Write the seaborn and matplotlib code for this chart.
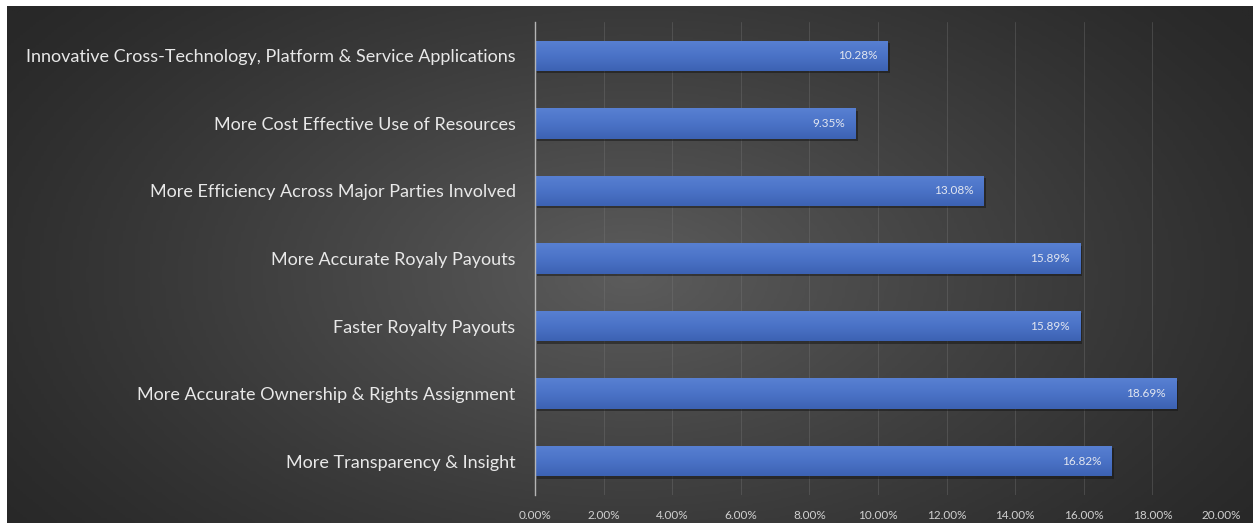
import numpy as np
import pandas as pd
import matplotlib
matplotlib.use("Agg")
import matplotlib.pyplot as plt
from matplotlib.colors import LinearSegmentedColormap
import seaborn as sns

# Survey results: perceived benefits (share of respondents, %)
categories = [
    "Innovative Cross-Technology, Platform & Service Applications",
    "More Cost Effective Use of Resources",
    "More Efficiency Across Major Parties Involved",
    "More Accurate Royaly Payouts",
    "Faster Royalty Payouts",
    "More Accurate Ownership & Rights Assignment",
    "More Transparency & Insight",
]
values = [10.28, 9.35, 13.08, 15.89, 15.89, 18.69, 16.82]
x_ticks = [0, 2, 4, 6, 8, 10, 12, 14, 16, 18, 20]

df = pd.DataFrame({"benefit": categories, "share": values})

sns.set_theme(style="dark")
plt.rcParams["font.family"] = ["Lato", "DejaVu Sans"]

W, H, DPI = 1253, 523, 100
fig = plt.figure(figsize=(W / DPI, H / DPI), dpi=DPI, facecolor="white")

# Dark radial-gradient backdrop
bg = fig.add_axes([7 / W, 0, 1 - 7 / W, (H - 6) / H], zorder=0)
gx, gy = np.meshgrid(np.linspace(0, 1, 400), np.linspace(0, 1, 200))
r = np.sqrt(((gx - 0.5) / 0.62) ** 2 + ((gy - 0.52) / 0.85) ** 2)
shade = np.clip(1 - r, 0, 1) ** 1.2
bg_cmap = LinearSegmentedColormap.from_list("bg", ["#282828", "#5c5c5c"])
bg.imshow(shade, cmap=bg_cmap, aspect="auto", extent=[0, 1, 0, 1], vmin=0, vmax=1)
bg.set_axis_off()

left, right = 535 / W, 1221 / W
bottom, top = 1 - 495 / H, 1 - 22 / H
ax = fig.add_axes([left, bottom, right - left, top - bottom], zorder=1)
ax.patch.set_alpha(0)

sns.barplot(data=df, x="share", y="benefit", orient="h", color="#4a72c6",
            width=0.45, saturation=1, ax=ax, zorder=3,
            edgecolor="none", linewidth=0)

# Soft vertical shading and drop shadow on each bar
bar_cmap = LinearSegmentedColormap.from_list("bar", ["#3c62b3", "#4b73c7", "#5880d2"])
for p in list(ax.patches):
    x0, y0 = p.get_x(), p.get_y()
    w, h = p.get_width(), p.get_height()
    shadow = plt.Rectangle((x0 + 0.06, y0 + 0.035), w, h, color="#141414",
                           alpha=0.5, zorder=2, lw=0)
    ax.add_patch(shadow)
    grad = np.linspace(0, 1, 64).reshape(-1, 1)
    im = ax.imshow(grad, cmap=bar_cmap, aspect="auto",
                   extent=[x0, x0 + w, y0 + h, y0], origin="lower", zorder=4)
    im.set_clip_path(p)

for i, v in enumerate(values):
    ax.text(v - 0.3, i, f"{v:.2f}%", ha="right", va="center",
            fontsize=8.5, color="#e2e6f0", zorder=5)

ax.set_xlim(0, 20)
ax.set_ylim(len(categories) - 0.5, -0.5)
ax.set_xticks(x_ticks)
ax.set_xticklabels([f"{t:.2f}%" for t in x_ticks])
ax.tick_params(axis="x", colors="#d0d0d0", labelsize=8.5, length=0, pad=11)
ax.tick_params(axis="y", colors="#e8e8e8", labelsize=13.0, length=0, pad=14)
ax.set_xlabel("")
ax.set_ylabel("")
ax.grid(axis="x", color="#7a7a7a", lw=0.7, alpha=0.35, zorder=0)
ax.grid(axis="y", visible=False)
for s in ["top", "right", "bottom"]:
    ax.spines[s].set_visible(False)
ax.spines["left"].set_color("#b5b5b5")
ax.spines["left"].set_linewidth(1.0)
ax.spines["left"].set_zorder(6)

fig.savefig("out.png", dpi=DPI)
